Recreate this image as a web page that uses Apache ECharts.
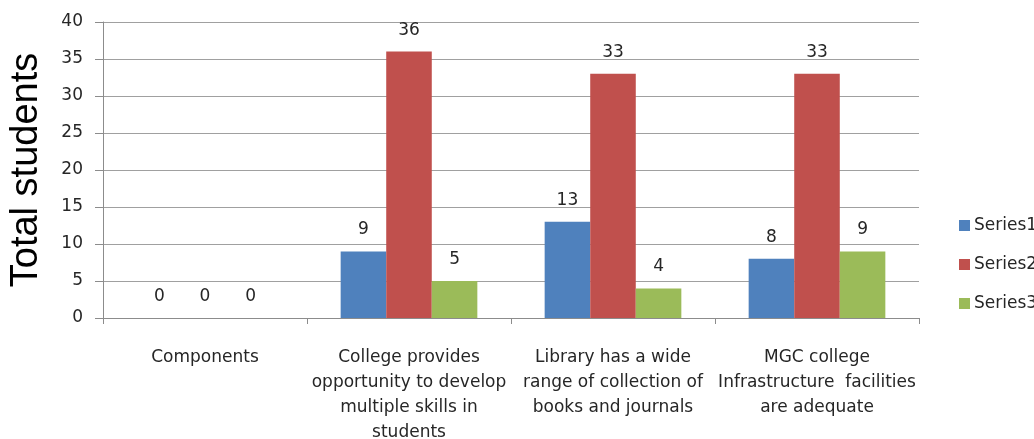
<!DOCTYPE html>
<html><head><meta charset="utf-8">
<script src="https://cdn.jsdelivr.net/npm/echarts@6/dist/echarts.min.js"></script>
<style>html,body{margin:0;padding:0;background:#fff}#c{width:1034px;height:439px}</style>
</head><body><div id="c"></div>
<script>
const categories = [
  "Components",
  "College provides\nopportunity to develop\nmultiple skills in\nstudents",
  "Library has a wide\nrange of collection of\nbooks and journals",
  "MGC college\nInfrastructure  facilities\nare adequate"
];
const series1 = [0, 9, 13, 8];
const series2 = [0, 36, 33, 33];
const series3 = [0, 5, 4, 9];
const seriesNames = ["Series1", "Series2", "Series3"];
const colors = ["#4F81BD", "#C0504D", "#9BBB59"];
const yTitle = "Total students";

const chart = echarts.init(document.getElementById('c'), null, {renderer: 'canvas'});
const font = "DejaVu Sans";
const mk = (name, data, color) => ({
  name, type: 'bar', data, barGap: '0%', barCategoryGap: '33%',
  itemStyle: {color},
  label: {show: true, position: 'top', distance: 13, color: '#262626', fontFamily: font, fontSize: 17},
  animation: false
});
chart.setOption({
  animation: false,
  grid: {left: 103, right: 115, top: 22, bottom: 121, containLabel: false, outerBoundsMode: 'none'},
  legend: {
    orient: 'vertical', left: 954, top: 212, itemWidth: 11, itemHeight: 11, itemGap: 22,
    icon: 'rect',
    textStyle: {fontFamily: font, fontSize: 17, color: '#262626', padding: [0,0,0,-1]},
    data: seriesNames
  },
  xAxis: {
    type: 'category', data: categories,
    axisLine: {lineStyle: {color: '#8c8c8c', width: 1}},
    axisTick: {show: true, length: 6, lineStyle: {color: '#8c8c8c'}},
    axisLabel: {interval: 0, fontFamily: font, fontSize: 17, color: '#262626', lineHeight: 25, margin: 27}
  },
  yAxis: {
    type: 'value', min: 0, max: 40, interval: 5,
    name: yTitle, nameLocation: 'middle', nameGap: 57,
    nameTextStyle: {fontFamily: 'Liberation Sans', fontSize: 38, color: '#000'},
    axisLine: {show: true, lineStyle: {color: '#8c8c8c'}},
    axisTick: {show: true, length: 8, lineStyle: {color: '#8c8c8c'}},
    axisLabel: {fontFamily: font, fontSize: 17, color: '#262626', margin: 20},
    splitLine: {lineStyle: {color: '#a0a0a0', width: 1}}
  },
  series: [mk(seriesNames[0], series1, colors[0]), mk(seriesNames[1], series2, colors[1]), mk(seriesNames[2], series3, colors[2])]
});
</script></body></html>
